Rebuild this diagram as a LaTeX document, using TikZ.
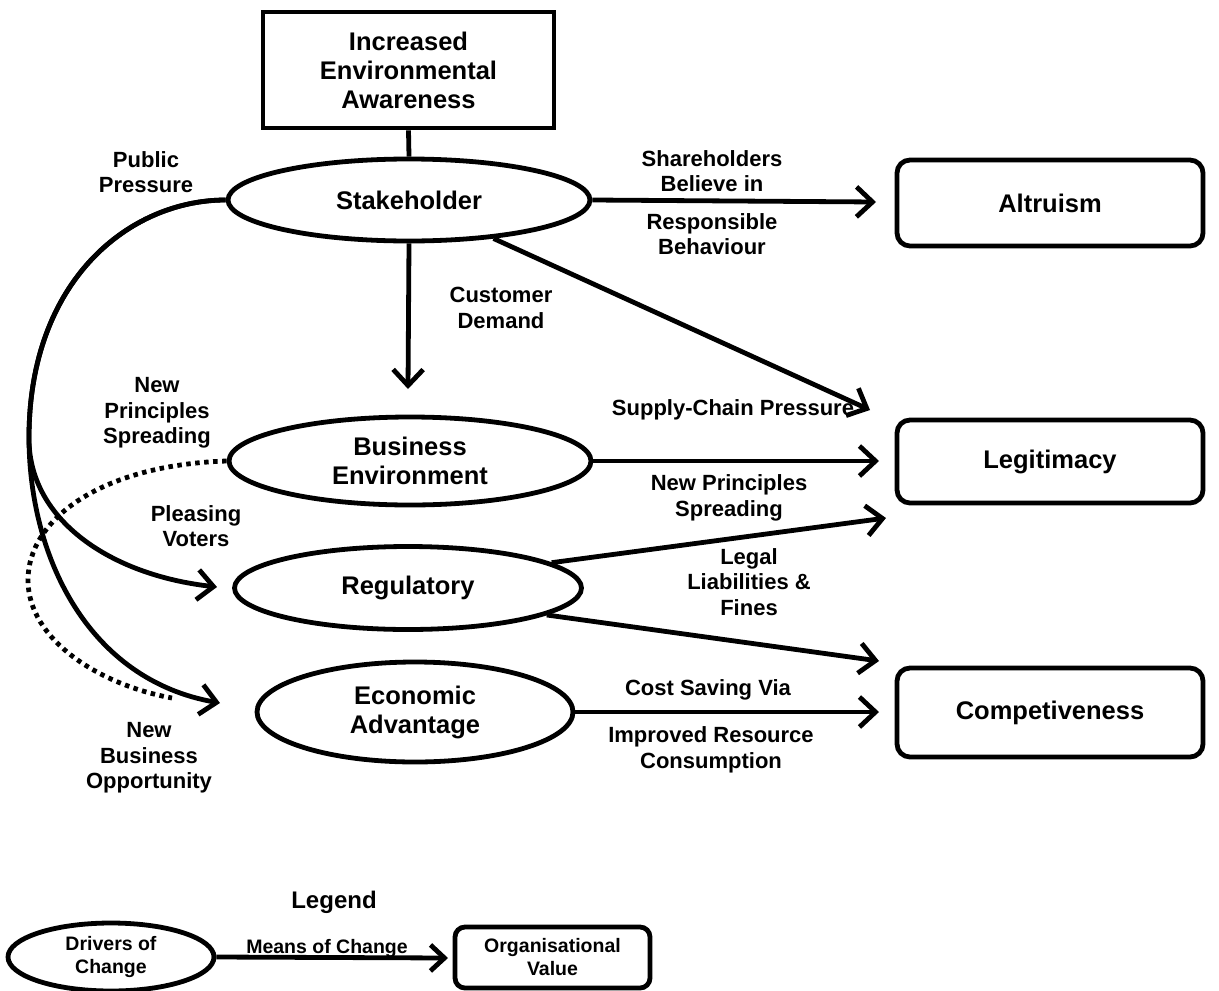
\documentclass[tikz,border=0pt]{standalone}
\usepackage{fontspec}
\setmainfont{Liberation Sans}
\usetikzlibrary{shapes.geometric,arrows.meta}
\begin{document}
\begin{tikzpicture}[x=1pt,y=-1pt,
  drv/.style={ellipse,draw,line width=4.8pt,inner sep=0pt,align=center,
    font=\fontsize{25.5}{29}\selectfont\bfseries},
  valbox/.style={rectangle,rounded corners=13pt,draw,line width=4.8pt,inner sep=0pt,align=center,
    font=\fontsize{25.5}{29}\selectfont\bfseries,minimum width=306pt},
  lab/.style={align=center,inner sep=0pt,font=\fontsize{22}{25.5}\selectfont\bfseries},
  conn/.style={line width=4.8pt,-{Straight Barb[length=16pt,width=30pt]}},
  plainconn/.style={line width=4.8pt},
  dotconn/.style={line width=4.8pt,dash pattern=on 4.5pt off 4.5pt},
]
\useasboundingbox (0,0) rectangle (1219,991);

% main nodes
\node[rectangle,draw,line width=4.8pt,minimum width=291pt,minimum height=116pt,align=center,
  inner sep=0pt,font=\fontsize{25.5}{29}\selectfont\bfseries] (awr) at (408.5,70) {Increased\\Environmental\\Awareness};
\node[drv,minimum width=362pt,minimum height=82pt] (stake) at (409,200) {Stakeholder};
\node[drv,minimum width=362pt,minimum height=88pt] (benv) at (410,461) {Business\\Environment};
\node[drv,minimum width=347pt,minimum height=83pt] (reg) at (408,588) {Regulatory};
\node[drv,minimum width=316pt,minimum height=100pt] (econ) at (415,712) {Economic\\Advantage};

\node[valbox,minimum height=86pt] (alt) at (1050,203) {Altruism};
\node[valbox,minimum height=83pt] (legit) at (1050,461.5) {Legitimacy};
\node[valbox,minimum height=89pt] (comp) at (1050,712.5) {Competiveness};

% arrow end points
\coordinate (altIn) at (876,202);
\coordinate (benvIn) at (408,389);
\coordinate (legIn1) at (870,410);
\coordinate (legIn2) at (879,461);
\coordinate (legIn3) at (886,518);
\coordinate (compIn1) at (879,661);
\coordinate (compIn2) at (879,712);
\coordinate (regIn) at (217,587);
\coordinate (econIn) at (220,703);
\coordinate (split) at (29,440);

% connectors
\draw[plainconn] (awr.south) -- (stake.north);
\draw[conn] (stake.east) -- (altIn);
\draw[conn] (stake.south) -- (benvIn);
\draw[conn] (stake) -- (legIn1);
\draw[conn] (benv.east) -- (legIn2);
\draw[conn] (reg.10) -- (legIn3);
\draw[conn] (reg.-11) -- (compIn1);
\draw[conn] (econ.east) -- (compIn2);

\draw[conn] (stake.west) .. controls (130,200) and (28,280) .. (split)
  .. controls (30,520) and (110,575) .. (regIn);
\draw[conn] (stake.west) .. controls (130,200) and (28,280) .. (split)
  .. controls (30,560) and (90,680) .. (econIn);
\draw[dotconn] (benv.west) .. controls (100,465) and (28,520) .. (28,580)
  .. controls (28,640) and (100,685) .. (172,698);

% labels
\node[lab] (l1) at (146,172) {Public\\Pressure};
\node[lab] (l2) at (712,171) {Shareholders\\Believe in};
\node[lab] (l3) at (712,234) {Responsible\\Behaviour};
\node[lab] (l4) at (501,308) {Customer\\Demand};
\node[lab] (l5) at (733,410) {Supply-Chain Pressure};
\node[lab] (l6) at (157,413) {New\\Principles\\Spreading};
\node[lab] (l7) at (729,498) {New Principles\\Spreading};
\node[lab] (l8) at (196,526) {Pleasing\\Voters};
\node[lab] (l9) at (749,582) {Legal\\Liabilities \&\\Fines};
\node[lab] (l10) at (708,690) {Cost Saving Via};
\node[lab] (l11) at (711,750) {Improved Resource\\Consumption};
\node[lab] (l12) at (149,758) {New\\Business\\Opportunity};

% legend
\node[inner sep=0pt,font=\fontsize{24}{28}\selectfont\bfseries] (leg) at (334,902) {Legend};
\node[ellipse,draw,line width=4.8pt,inner sep=0pt,align=center,minimum width=206pt,minimum height=68pt,
  font=\fontsize{19.5}{23}\selectfont\bfseries] (ldrv) at (111,957) {Drivers of\\Change};
\node[rectangle,rounded corners=10pt,draw,line width=4.8pt,inner sep=0pt,align=center,
  minimum width=195pt,minimum height=61pt,font=\fontsize{19.5}{23}\selectfont\bfseries] (lval) at (552.5,957.5) {Organisational\\Value};
\coordinate (lvalIn) at (448,958);
\draw[line width=4.8pt,-{Straight Barb[length=14pt,width=26pt]}] (ldrv.east) -- (lvalIn);
\node[inner sep=0pt,font=\fontsize{19.5}{23}\selectfont\bfseries] (lmeans) at (327,948) {Means of Change};
\end{tikzpicture}
\end{document}
